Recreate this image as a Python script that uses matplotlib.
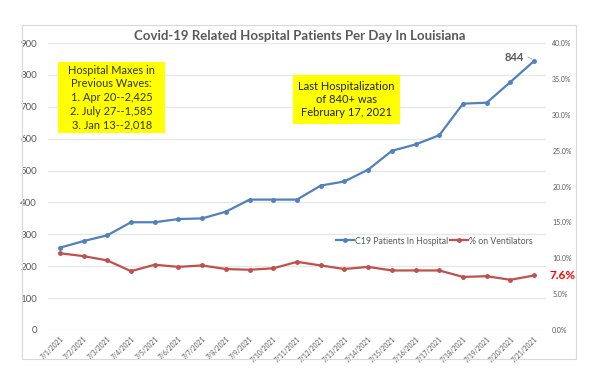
import numpy as np
import matplotlib
matplotlib.use('Agg')
import matplotlib.pyplot as plt
import matplotlib.patches as patches

dates = ['7/%d/2021' % d for d in range(1, 22)]
patients = [258, 279, 297, 338, 338, 348, 350, 371, 409, 409, 409,
            453, 466, 503, 562, 582, 611, 710, 713, 778, 844]
vent_pct = [10.7, 10.3, 9.7, 8.2, 9.1, 8.8, 9.0, 8.5, 8.4, 8.6, 9.5,
            9.0, 8.5, 8.8, 8.3, 8.3, 8.3, 7.4, 7.5, 7.0, 7.6]

blue = '#4F81BD'
red = '#C0504D'
grey = '#595959'
plt.rcParams['font.family'] = ['Lato', 'DejaVu Sans']

fig = plt.figure(figsize=(6, 3.78), dpi=100)
fig.patches.append(patches.Rectangle((0.037, 0.050), 0.923, 0.884, transform=fig.transFigure,
                                     fill=False, edgecolor='#D9D9D9', linewidth=0.8))

ax = fig.add_axes([0.08, 0.127, 0.83, 0.759])
ax2 = ax.twinx()
x = np.arange(len(dates))

ax.set_ylim(0, 900)
ax.set_yticks(range(0, 901, 100))
ax.set_xlim(-0.5, len(dates) - 0.5)
ax.grid(axis='y', color='#E6E6E6', linewidth=0.9)
ax.set_axisbelow(True)
l1, = ax.plot(x, patients, color=blue, linewidth=1.6, marker='o', markersize=2.5,
              label='C19 Patients In Hospital')

ax2.set_ylim(0, 40)
ax2.set_yticks(range(0, 41, 5))
ax2.set_yticklabels(['%.1f%%' % v for v in range(0, 41, 5)])
l2, = ax2.plot(x, vent_pct, color=red, linewidth=1.6, marker='o', markersize=2.5,
               label='% on Ventilators')

for a in (ax, ax2):
    for s in a.spines.values():
        s.set_visible(False)
    a.tick_params(length=0, colors=grey)
ax.tick_params(axis='y', labelsize=7, pad=8)
ax2.tick_params(axis='y', labelsize=5, pad=4.5)
ax.set_xticks(x)
ax.set_xticklabels(dates, rotation=45, ha='right', rotation_mode='anchor', fontsize=4.8)
ax.tick_params(axis='x', pad=4)

ax.legend(handles=[l1, l2], loc='center', bbox_to_anchor=(0.776, 0.31), ncol=2,
          frameon=False, fontsize=6.3, handlelength=2.0, columnspacing=0.2,
          handletextpad=0.15, labelcolor=grey)

fig.text(0.5, 0.905, 'Covid-19 Related Hospital Patients Per Day In Louisiana',
         ha='center', va='center', fontsize=9.5, fontweight='bold', color=grey)

# yellow note boxes
fig.patches.append(patches.Rectangle((0.0967, 0.648), 0.178, 0.188, transform=fig.transFigure,
                                     facecolor='#FFFF00', edgecolor='none'))
fig.text(0.186, 0.742, 'Hospital Maxes in\nPrevious Waves:\n1. Apr 20--2,425\n2. July 27--1,585\n3. Jan 13--2,018',
         ha='center', va='center', fontsize=7.9, color='#333300', linespacing=1.3)
fig.patches.append(patches.Rectangle((0.488, 0.672), 0.178, 0.130, transform=fig.transFigure,
                                     facecolor='#FFFF00', edgecolor='none'))
fig.text(0.5775, 0.737, 'Last Hospitalization\nof 840+ was\nFebruary 17, 2021',
         ha='center', va='center', fontsize=8, color='#222222', linespacing=1.25)

ax.annotate(str(patients[-1]), xy=(x[-1], patients[-1]), xytext=(x[-1] - 0.85, patients[-1] + 12),
            ha='center', va='center', fontsize=8, fontweight='bold', color=grey,
            arrowprops=dict(arrowstyle='-', color='#A6A6A6', linewidth=0.6, shrinkA=1, shrinkB=2,
                            connectionstyle='arc3,rad=-0.3'))
ax2.annotate('%.1f%%' % vent_pct[-1], xy=(x[-1], vent_pct[-1]), xytext=(1.3, 0),
             textcoords='offset fontsize', ha='left', va='center', fontsize=8.5,
             fontweight='bold', color='#FF0000')

fig.savefig('out.png', dpi=100)
